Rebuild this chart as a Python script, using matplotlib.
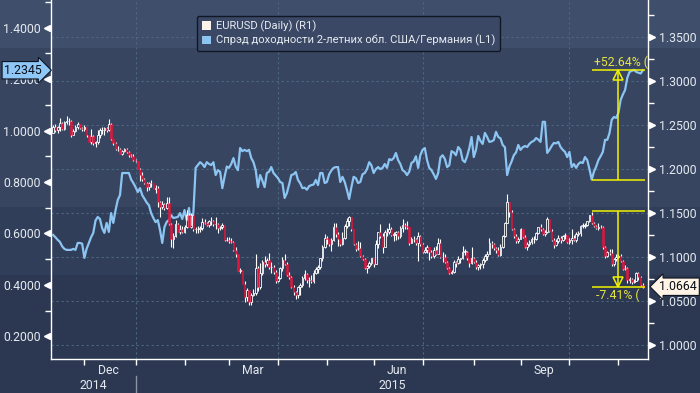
import numpy as np
import pandas as pd
import matplotlib
matplotlib.use("Agg")
import matplotlib.pyplot as plt
import matplotlib.transforms as mtransforms
from matplotlib.patches import Rectangle, Patch
from matplotlib.lines import Line2D
from matplotlib.ticker import MultipleLocator, FormatStrFormatter

plt.rcParams['font.family'] = ['Roboto', 'DejaVu Sans']

# ---- data (business days 2014-11-11 .. 2015-11-17), one week per row ----
first_open = 1.2410

eur_close = [
    1.2478, 1.2440, 1.2475, 1.2525,
    1.2450, 1.2535, 1.2545, 1.2545, 1.2390,
    1.2435, 1.2470, 1.2505, 1.2465, 1.2450,
    1.2470, 1.2380, 1.2310, 1.2375, 1.2290,
    1.2310, 1.2380, 1.2440, 1.2440, 1.2465,
    1.2440, 1.2505, 1.2340, 1.2290, 1.2230,
    1.2225, 1.2170, 1.2200, 1.2225, 1.2190,
    1.2155, 1.2150, 1.2100, 1.2090, 1.2000,
    1.1935, 1.1890, 1.1840, 1.1790, 1.1840,
    1.1835, 1.1775, 1.1780, 1.1630, 1.1565,
    1.1600, 1.1555, 1.1610, 1.1370, 1.1205,
    1.1240, 1.1380, 1.1290, 1.1315, 1.1290,
    1.1345, 1.1480, 1.1345, 1.1475, 1.1315,
    1.1320, 1.1320, 1.1330, 1.1400, 1.1390,
    1.1360, 1.1410, 1.1405, 1.1375, 1.1380,
    1.1330, 1.1340, 1.1360, 1.1195, 1.1195,
    1.1185, 1.1175, 1.1075, 1.1030, 1.0845,
    1.0850, 1.0700, 1.0550, 1.0625, 1.0495,
    1.0565, 1.0595, 1.0880, 1.0660, 1.0820,
    1.0940, 1.0925, 1.0970, 1.0885, 1.0890,
    1.0835, 1.0730, 1.0760, 1.0875, 1.0970,
    1.0925, 1.0795, 1.0780, 1.0660, 1.0600,
    1.0570, 1.0660, 1.0685, 1.0765, 1.0805,
    1.0735, 1.0745, 1.0730, 1.0825, 1.0870,
    1.0885, 1.0985, 1.1120, 1.1220, 1.1200,
    1.1145, 1.1195, 1.1345, 1.1265, 1.1200,
    1.1150, 1.1220, 1.1350, 1.1410, 1.1450,
    1.1315, 1.1145, 1.1095, 1.1100, 1.1015,
    1.0980, 1.0875, 1.0895, 1.0935, 1.0985,
    1.0925, 1.1150, 1.1280, 1.1240, 1.1110,
    1.1290, 1.1285, 1.1320, 1.1255, 1.1265,
    1.1285, 1.1245, 1.1330, 1.1365, 1.1350,
    1.1340, 1.1160, 1.1205, 1.1200, 1.1165,
    1.1235, 1.1145, 1.1055, 1.1085, 1.1110,
    1.1060, 1.1010, 1.1080, 1.1035, 1.1160,
    1.1005, 1.1000, 1.0945, 1.0875, 1.0825,
    1.0830, 1.0940, 1.0930, 1.0980, 1.0985,
    1.1060, 1.1060, 1.0985, 1.0935, 1.0985,
    1.0950, 1.0890, 1.0905, 1.0920, 1.0970,
    1.1015, 1.1040, 1.1165, 1.1150, 1.1105,
    1.1085, 1.1025, 1.1120, 1.1240, 1.1385,
    1.1620, 1.1515, 1.1320, 1.1245, 1.1185,
    1.1210, 1.1315, 1.1230, 1.1120, 1.1150,
    1.1170, 1.1200, 1.1205, 1.1275, 1.1340,
    1.1315, 1.1265, 1.1285, 1.1430, 1.1300,
    1.1195, 1.1135, 1.1185, 1.1215, 1.1195,
    1.1235, 1.1255, 1.1175, 1.1195, 1.1215,
    1.1190, 1.1265, 1.1275, 1.1355, 1.1355,
    1.1365, 1.1405, 1.1475, 1.1385, 1.1350,
    1.1325, 1.1345, 1.1340, 1.1110, 1.1015,
    1.1055, 1.1050, 1.0925, 1.0975, 1.1005,
    1.1015, 1.0960, 1.0865, 1.0880, 1.0740,
    1.0750, 1.0720, 1.0725, 1.0815, 1.0770,
    1.0685, 1.0664,
]

eur_high = [
    1.2497, 1.2510, 1.2490, 1.2578,
    1.2531, 1.2545, 1.2600, 1.2575, 1.2555,
    1.2450, 1.2499, 1.2530, 1.2510, 1.2475,
    1.2500, 1.2475, 1.2390, 1.2455, 1.2390,
    1.2320, 1.2440, 1.2460, 1.2475, 1.2480,
    1.2480, 1.2570, 1.2520, 1.2345, 1.2300,
    1.2260, 1.2240, 1.2215, 1.2235, 1.2240,
    1.2200, 1.2175, 1.2165, 1.2110, 1.2095,
    1.2010, 1.1965, 1.1900, 1.1850, 1.1850,
    1.1870, 1.1845, 1.1820, 1.1810, 1.1640,
    1.1640, 1.1610, 1.1680, 1.1680, 1.1390,
    1.1270, 1.1420, 1.1385, 1.1365, 1.1350,
    1.1365, 1.1535, 1.1495, 1.1495, 1.1490,
    1.1340, 1.1355, 1.1350, 1.1445, 1.1430,
    1.1400, 1.1425, 1.1450, 1.1420, 1.1450,
    1.1390, 1.1355, 1.1385, 1.1365, 1.1225,
    1.1225, 1.1215, 1.1180, 1.1115, 1.1040,
    1.0880, 1.0855, 1.0725, 1.0650, 1.0630,
    1.0590, 1.0640, 1.1040, 1.0900, 1.0935,
    1.0965, 1.1015, 1.0995, 1.1050, 1.0945,
    1.0905, 1.0850, 1.0790, 1.0890, 1.1005,
    1.1030, 1.0950, 1.0835, 1.0790, 1.0680,
    1.0615, 1.0670, 1.0710, 1.0785, 1.0850,
    1.0815, 1.0775, 1.0800, 1.0850, 1.0890,
    1.0915, 1.0995, 1.1140, 1.1265, 1.1245,
    1.1210, 1.1220, 1.1390, 1.1390, 1.1285,
    1.1205, 1.1280, 1.1375, 1.1445, 1.1465,
    1.1455, 1.1320, 1.1160, 1.1180, 1.1170,
    1.1025, 1.0990, 1.0905, 1.0955, 1.0990,
    1.0985, 1.1195, 1.1290, 1.1380, 1.1275,
    1.1310, 1.1330, 1.1385, 1.1340, 1.1290,
    1.1300, 1.1295, 1.1350, 1.1435, 1.1390,
    1.1410, 1.1345, 1.1230, 1.1240, 1.1220,
    1.1280, 1.1250, 1.1160, 1.1120, 1.1135,
    1.1115, 1.1080, 1.1110, 1.1125, 1.1215,
    1.1200, 1.1055, 1.1040, 1.0960, 1.0890,
    1.0855, 1.0965, 1.0960, 1.1010, 1.0995,
    1.1130, 1.1095, 1.1070, 1.0990, 1.1115,
    1.1000, 1.0965, 1.0925, 1.0935, 1.0985,
    1.1040, 1.1065, 1.1215, 1.1185, 1.1165,
    1.1115, 1.1110, 1.1150, 1.1250, 1.1395,
    1.1715, 1.1620, 1.1530, 1.1335, 1.1265,
    1.1230, 1.1330, 1.1320, 1.1250, 1.1170,
    1.1195, 1.1225, 1.1245, 1.1290, 1.1345,
    1.1370, 1.1330, 1.1305, 1.1460, 1.1435,
    1.1315, 1.1220, 1.1205, 1.1255, 1.1235,
    1.1250, 1.1275, 1.1255, 1.1215, 1.1315,
    1.1250, 1.1285, 1.1295, 1.1365, 1.1385,
    1.1385, 1.1410, 1.1480, 1.1510, 1.1395,
    1.1365, 1.1385, 1.1365, 1.1355, 1.1125,
    1.1065, 1.1090, 1.1095, 1.0985, 1.1040,
    1.1040, 1.1030, 1.0965, 1.0905, 1.0885,
    1.0775, 1.0760, 1.0755, 1.0830, 1.0835,
    1.0790, 1.0705,
]

eur_low = [
    1.2402, 1.2418, 1.2411, 1.2430,
    1.2444, 1.2440, 1.2505, 1.2500, 1.2360,
    1.2385, 1.2415, 1.2455, 1.2450, 1.2435,
    1.2430, 1.2360, 1.2300, 1.2280, 1.2270,
    1.2245, 1.2285, 1.2355, 1.2400, 1.2390,
    1.2420, 1.2430, 1.2330, 1.2270, 1.2220,
    1.2205, 1.2165, 1.2160, 1.2195, 1.2180,
    1.2140, 1.2130, 1.2095, 1.2080, 1.1995,
    1.1865, 1.1860, 1.1830, 1.1755, 1.1765,
    1.1795, 1.1770, 1.1730, 1.1570, 1.1460,
    1.1550, 1.1530, 1.1540, 1.1360, 1.1115,
    1.1100, 1.1230, 1.1285, 1.1265, 1.1270,
    1.1270, 1.1335, 1.1340, 1.1335, 1.1300,
    1.1270, 1.1270, 1.1280, 1.1310, 1.1370,
    1.1350, 1.1340, 1.1365, 1.1355, 1.1315,
    1.1270, 1.1310, 1.1320, 1.1185, 1.1180,
    1.1160, 1.1160, 1.1070, 1.1000, 1.0840,
    1.0820, 1.0690, 1.0495, 1.0500, 1.0460,
    1.0460, 1.0560, 1.0570, 1.0615, 1.0635,
    1.0800, 1.0890, 1.0900, 1.0860, 1.0820,
    1.0810, 1.0710, 1.0715, 1.0755, 1.0845,
    1.0905, 1.0790, 1.0750, 1.0650, 1.0575,
    1.0520, 1.0540, 1.0570, 1.0660, 1.0735,
    1.0710, 1.0660, 1.0705, 1.0710, 1.0810,
    1.0820, 1.0865, 1.0960, 1.1105, 1.1150,
    1.1130, 1.1070, 1.1185, 1.1230, 1.1130,
    1.1125, 1.1135, 1.1200, 1.1335, 1.1355,
    1.1300, 1.1135, 1.1065, 1.1085, 1.1000,
    1.0965, 1.0865, 1.0820, 1.0875, 1.0910,
    1.0885, 1.0920, 1.1100, 1.1215, 1.1050,
    1.1120, 1.1245, 1.1265, 1.1240, 1.1185,
    1.1190, 1.1200, 1.1215, 1.1285, 1.1315,
    1.1320, 1.1135, 1.1160, 1.1170, 1.1135,
    1.0955, 1.1125, 1.1045, 1.1050, 1.1045,
    1.0970, 1.0990, 1.0990, 1.1025, 1.1040,
    1.0990, 1.0950, 1.0935, 1.0865, 1.0810,
    1.0810, 1.0820, 1.0885, 1.0925, 1.0930,
    1.0975, 1.1025, 1.0970, 1.0890, 1.0925,
    1.0935, 1.0870, 1.0850, 1.0865, 1.0875,
    1.0950, 1.0965, 1.1030, 1.1105, 1.1085,
    1.1045, 1.1015, 1.1015, 1.1105, 1.1225,
    1.1385, 1.1460, 1.1305, 1.1220, 1.1160,
    1.1155, 1.1200, 1.1215, 1.1100, 1.1085,
    1.1130, 1.1150, 1.1160, 1.1195, 1.1265,
    1.1300, 1.1250, 1.1245, 1.1270, 1.1285,
    1.1180, 1.1105, 1.1125, 1.1160, 1.1165,
    1.1180, 1.1210, 1.1160, 1.1150, 1.1150,
    1.1185, 1.1175, 1.1235, 1.1245, 1.1325,
    1.1335, 1.1355, 1.1395, 1.1380, 1.1340,
    1.1315, 1.1310, 1.1325, 1.1095, 1.0995,
    1.1005, 1.1020, 1.0895, 1.0895, 1.0955,
    1.0990, 1.0945, 1.0850, 1.0850, 1.0705,
    1.0710, 1.0695, 1.0710, 1.0725, 1.0745,
    1.0675, 1.0650,
]

spread = [
    0.594, 0.585, 0.575, 0.567,
    0.550, 0.540, 0.536, 0.536, 0.536,
    0.540, 0.536, 0.563, 0.563, 0.560,
    0.505, 0.540, 0.563, 0.585, 0.602,
    0.650, 0.664, 0.656, 0.620, 0.602,
    0.641, 0.606, 0.679, 0.641, 0.690,
    0.730, 0.749, 0.835, 0.835, 0.835,
    0.835, 0.810, 0.796, 0.780, 0.761,
    0.776, 0.749, 0.735, 0.720, 0.710,
    0.679, 0.660, 0.644, 0.652, 0.613,
    0.563, 0.625, 0.645, 0.652, 0.671,
    0.660, 0.662, 0.664, 0.679, 0.656,
    0.691, 0.652, 0.699, 0.633, 0.683,
    0.855, 0.866, 0.877, 0.870, 0.858,
    0.877, 0.870, 0.866, 0.877, 0.827,
    0.846, 0.840, 0.776, 0.820, 0.860,
    0.855, 0.870, 0.893, 0.860, 0.846,
    0.932, 0.920, 0.925, 0.920, 0.925,
    0.893, 0.877, 0.846, 0.780, 0.827,
    0.805, 0.780, 0.835, 0.840, 0.858,
    0.835, 0.825, 0.815, 0.800, 0.796,
    0.738, 0.757, 0.790, 0.827, 0.830,
    0.839, 0.808, 0.795, 0.776, 0.778,
    0.770, 0.784, 0.788, 0.790, 0.808,
    0.788, 0.835, 0.835, 0.796, 0.800,
    0.830, 0.845, 0.855, 0.858, 0.858,
    0.800, 0.820, 0.800, 0.769, 0.734,
    0.780, 0.820, 0.815, 0.796, 0.800,
    0.830, 0.835, 0.850, 0.877, 0.865,
    0.835, 0.850, 0.858, 0.850, 0.855,
    0.870, 0.855, 0.889, 0.885, 0.893,
    0.913, 0.885, 0.870, 0.846, 0.840,
    0.827, 0.840, 0.874, 0.880, 0.900,
    0.855, 0.905, 0.925, 0.932, 0.885,
    0.855, 0.846, 0.830, 0.812, 0.835,
    0.895, 0.904, 0.890, 0.858, 0.865,
    0.920, 0.915, 0.904, 0.936, 0.925,
    0.885, 0.877, 0.900, 0.932, 0.975,
    0.897, 0.925, 0.979, 0.960, 0.948,
    0.991, 0.975, 0.956, 0.958, 0.963,
    0.995, 0.975, 0.970, 0.944, 0.935,
    0.827, 0.860, 0.880, 0.904, 0.915,
    0.944, 0.925, 0.935, 0.940, 0.936,
    0.948, 0.956, 0.960, 0.971, 0.965,
    0.956, 1.034, 1.034, 0.913, 0.925,
    0.940, 0.952, 0.950, 0.956, 0.936,
    0.925, 0.917, 0.897, 0.917, 0.858,
    0.870, 0.855, 0.870, 0.877, 0.874,
    0.897, 0.885, 0.850, 0.809, 0.840,
    0.860, 0.885, 0.900, 0.917, 0.964,
    0.964, 0.990, 1.042, 1.053, 1.049,
    1.069, 1.119, 1.140, 1.158, 1.205,
    1.228, 1.232, 1.236, 1.228, 1.225,
    1.222, 1.2345,
]

legend_labels = ["EURUSD (Daily) (R1)",
                 "Спрэд доходности 2-летних обл. США/Германия (L1)"]
spread_change_pct = 52.64
eur_change_pct = -7.41
change_start = "2015-10-15"
month_label_months = [12, 3, 6, 9]
grid_months = [1, 4, 7, 10]

# ---- style ----
bands = [(0.8779, 1.0, '#3f4e6a'), (0.4733, 0.8779, '#374561'),
         (0.3003, 0.4733, '#313e59'), (0.0, 0.3003, '#2c3751')]
txt_col = '#e4eaf0'
grid_col = '#4d6880'
line_col = '#8cc4f2'
red = '#e0163c'
yellow = '#f2f200'
yellow_txt = '#e4e444'

n = min(len(eur_close), len(eur_high), len(eur_low), len(spread))
dates = pd.bdate_range("2014-11-11", "2015-11-17")[:n]
idx = np.arange(n)
close = np.array(eur_close[:n])
opn = np.concatenate([[first_open], close[:-1]])
high = np.array(eur_high[:n])
low = np.array(eur_low[:n])
spr = np.array(spread[:n])

fig = plt.figure(figsize=(7.0, 3.93), dpi=100)
bg = fig.add_axes([0, 0, 1, 1])
bg.set_zorder(-5)
bg.set_xlim(0, 1)
bg.set_ylim(0, 1)
bg.axis('off')
for y0, y1, col in bands:
    bg.add_patch(Rectangle((0, y0), 1, y1 - y0, fc=col, ec='none'))

ax = fig.add_axes([51 / 700, 1 - 358.5 / 393, 597 / 700, 358.5 / 393])
ax.set_zorder(1)
ax.patch.set_visible(False)
ax2 = ax.twinx()
ax2.set_zorder(2)
ax2.patch.set_visible(False)

ax.set_xlim(-1.0, 267.3)
ax.set_ylim(0.1137, 1.5077)
ax2.set_ylim(0.985, 1.3916)

for a in (ax, ax2):
    for s in a.spines.values():
        s.set_visible(False)
ax.spines['left'].set_visible(True)
ax.spines['bottom'].set_visible(True)
ax2.spines['right'].set_visible(True)
for s in (ax.spines['left'], ax.spines['bottom'], ax2.spines['right']):
    s.set_color('white')
    s.set_linewidth(1.0)

# y ticks
ax.yaxis.set_major_locator(MultipleLocator(0.2))
ax.yaxis.set_minor_locator(MultipleLocator(0.1))
ax.yaxis.set_major_formatter(FormatStrFormatter('%.4f'))
ax.tick_params(axis='y', which='major', length=0, pad=7.2,
               labelcolor=txt_col, labelsize=8.8)
ax.tick_params(axis='y', which='minor', length=4, width=1, color='white',
               direction='out')
ax2.yaxis.set_major_locator(MultipleLocator(0.05))
ax2.yaxis.set_minor_locator(MultipleLocator(0.025))
ax2.yaxis.set_major_formatter(FormatStrFormatter('%.4f'))
ax2.tick_params(axis='y', which='major', length=0, pad=7.9,
                labelcolor=txt_col, labelsize=8.8)
ax2.tick_params(axis='y', which='minor', length=4, width=1, color='white',
                direction='out')

lt = [v for v in ax.yaxis.get_majorticklocs() if 0.1137 < v < 1.5077]
rt = [v for v in ax2.yaxis.get_majorticklocs() if 0.985 < v < 1.3916]
tl = mtransforms.blended_transform_factory(ax.transAxes, ax.transData)
tr = mtransforms.blended_transform_factory(ax2.transAxes, ax2.transData)
ax.plot([-0.0075] * len(lt), lt, ls='none', marker='<', ms=5, color='white',
        transform=tl, clip_on=False)
ax2.plot([1.0068] * len(rt), rt, ls='none', marker='>', ms=5, color='white',
         transform=tr, clip_on=False)

# x ticks: month starts, labels in the middle of every third month
months = dates.month
month_starts = [i for i in range(1, n) if months[i] != months[i - 1]]
bounds = month_starts + [n]
lab_pos, lab_txt = [], []
for k, s in enumerate(month_starts):
    e = bounds[k + 1]
    if dates[s].month in month_label_months:
        lab_pos.append((s + e - 1) / 2)
        lab_txt.append(dates[s].strftime('%b'))

ax.set_xticks(month_starts)
ax.set_xticklabels([])
ax.set_xticks(lab_pos, minor=True)
ax.set_xticklabels(lab_txt, minor=True)
ax.tick_params(axis='x', which='major', length=4, width=1, color='white',
               direction='out')
ax.tick_params(axis='x', which='minor', length=0, pad=4.2,
               labelcolor=txt_col, labelsize=8.8)

# gridlines
for s in month_starts:
    if dates[s].month in grid_months:
        ax.axvline(s, color=grid_col, lw=0.8, ls=(0, (2, 2.5)), zorder=0.5)
for v in rt:
    ax.add_line(Line2D([0, 1], [v, v], transform=mtransforms.blended_transform_factory(
        ax.transAxes, ax2.transData), color=grid_col, lw=0.8, ls=(0, (2, 2.5)),
        zorder=0.5))

# years
jan = [s for s in month_starts if dates[s].month == 1][0]
tb = mtransforms.blended_transform_factory(ax.transData, ax.transAxes)
x0, x1 = ax.get_xlim()
ax.text((x0 + jan) / 2, -0.0767, str(dates[0].year), transform=tb, ha='center',
        va='center', color=txt_col, fontsize=8.8)
ax.text((jan + x1) / 2, -0.0767, str(dates[jan].year), transform=tb,
        ha='center', va='center', color=txt_col, fontsize=8.8)
ax.plot([jan, jan], [-0.049, -0.1], transform=tb, color='#8a94a6', lw=1,
        clip_on=False)

# spread line
ax.plot(idx, spr, color=line_col, lw=1.6, zorder=2)

# candles
top = np.maximum(opn, close)
bot = np.minimum(opn, close)
ax2.vlines(idx, top, np.maximum(high, top), colors='white', lw=0.8)
ax2.vlines(idx, np.minimum(low, bot), bot, colors='white', lw=0.8)
up = close >= opn
body = np.maximum(top - bot, 0.0004)
ax2.bar(idx[up], body[up], bottom=bot[up], width=0.75, color='none',
        edgecolor='white', linewidth=0.6)
ax2.bar(idx[~up], body[~up], bottom=bot[~up], width=0.75, color=red,
        edgecolor=red, linewidth=0.4)

# change annotations
i0 = dates.get_loc(pd.Timestamp(change_start))
i1 = n
im = (i0 + i1) / 2
s_last = spr[-1]
s_ref = s_last / (1 + spread_change_pct / 100)
e_last = close[-1]
e_ref = e_last / (1 + eur_change_pct / 100)

ax.hlines([s_ref, s_last], i0, i1, colors=yellow, lw=1.1, zorder=3)
ax.vlines(im, s_ref, s_last, colors=yellow, lw=1.1, zorder=3)
ax.plot([im], [s_last], marker='^', ms=7, mfc='none', mec=yellow, mew=1.1,
        transform=mtransforms.offset_copy(ax.transData, fig, y=-5, units='dots'),
        zorder=3)
ax.annotate(f"+{spread_change_pct:.2f}% (", xy=(i0, s_last), xytext=(2, 1),
            textcoords='offset points', ha='left', va='bottom', color=yellow_txt,
            fontsize=8.8, clip_on=True, zorder=3)

ax2.hlines([e_ref, e_last], i0, i1, colors=yellow, lw=1.1, zorder=3)
ax2.vlines(im, e_last, e_ref, colors=yellow, lw=1.1, zorder=3)
ax2.plot([im], [e_last], marker='v', ms=7, mfc='none', mec=yellow, mew=1.1,
         transform=mtransforms.offset_copy(ax2.transData, fig, y=5, units='dots'),
         zorder=3)
ax2.annotate(f"{eur_change_pct:.2f}% (", xy=(i0, e_last), xytext=(3, -1),
             textcoords='offset points', ha='left', va='top', color=yellow_txt,
             fontsize=8.8, clip_on=True, zorder=3)

# last value tags
tlt = mtransforms.blended_transform_factory(ax2.transAxes, ax.transData)
ax2.text(-0.015, s_last, f"{s_last:.4f}", transform=tlt, ha='right', va='center',
         fontsize=8.8, color='#0a0e18', clip_on=False, zorder=10,
         bbox=dict(boxstyle='rarrow,pad=0.18', fc='#8fc8f6', ec='#0d1522', lw=0.8))
ax2.text(1.019, e_last, f"{e_last:.4f}", transform=tr, ha='left', va='center',
         fontsize=8.8, color='#0a0e18', clip_on=False, zorder=10,
         bbox=dict(boxstyle='larrow,pad=0.18', fc='#fff4e6', ec='#0d1522', lw=0.8))

# legend
handles = [Patch(fc='#fdf3ea', ec='none'), Patch(fc=line_col, ec='none')]
leg = ax2.legend(handles, legend_labels, loc='upper left',
                 bbox_to_anchor=(0.2446, 0.9554), borderaxespad=0, frameon=True,
                 fancybox=True, facecolor='#3a4866', edgecolor='#121724',
                 framealpha=1, fontsize=8.1, handlelength=0.8, handleheight=0.8,
                 handletextpad=0.5, labelspacing=0.25, borderpad=0.4,
                 labelcolor='#e6ebf0')
leg.get_frame().set_linewidth(1.0)
leg.set_zorder(20)

fig.savefig("out.png", dpi=100, facecolor=fig.get_facecolor())
